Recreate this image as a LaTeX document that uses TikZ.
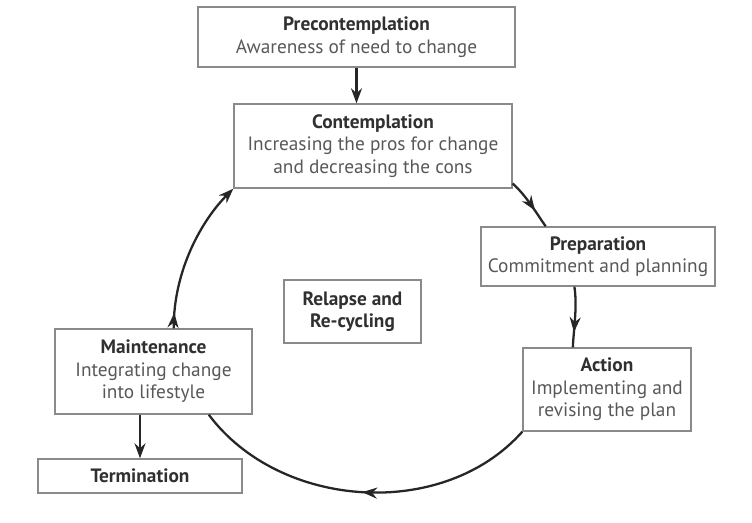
\documentclass[tikz,border=0pt]{standalone}
\usepackage{fontspec}
\setmainfont{PT Sans}
\usepackage{xcolor}
\usepackage{tikz}
\usetikzlibrary{arrows.meta,decorations.markings}

\definecolor{boxgray}{HTML}{8A8A8A}
\definecolor{txtgray}{HTML}{585858}
\definecolor{titlegray}{HTML}{303030}
\definecolor{arrgray}{HTML}{262626}
\newcommand{\stagetitle}[1]{{\bfseries\color{titlegray}#1}}

\begin{document}
\begin{tikzpicture}[x=0.02cm,y=-0.02cm,
  stagebox/.style={draw=boxgray,line width=0.8pt,align=center,text=txtgray,
    font=\fontsize{11}{12.8}\selectfont,inner sep=0pt},
  flow/.style={draw=arrgray,line width=1.3pt},
  tipat/.style={postaction={decorate},decoration={markings,
    mark=at position #1 with {\arrow{Stealth[length=3mm,width=2.2mm]}}}}]
\useasboundingbox (0,0) rectangle (752,522);

% stages
\node[stagebox,minimum width=6.34cm,minimum height=1.2cm] (pre) at (356.5,37)
  {\stagetitle{Precontemplation}\\Awareness of need to change};
\node[stagebox,minimum width=5.56cm,minimum height=1.68cm] (con) at (373,146)
  {\stagetitle{Contemplation}\\Increasing the pros for change\\and decreasing the cons};
\node[stagebox,minimum width=4.68cm,minimum height=1.18cm] (prep) at (598,256.5)
  {\stagetitle{Preparation}\\Commitment and planning};
\node[stagebox,minimum width=3.36cm,minimum height=1.66cm] (act) at (607,389.5)
  {\stagetitle{Action}\\Implementing and\\revising the plan};
\node[stagebox,minimum width=3.94cm,minimum height=1.7cm] (main) at (153.5,371.5)
  {\stagetitle{Maintenance}\\Integrating change\\into lifestyle};
\node[stagebox,minimum width=4.08cm,minimum height=0.68cm] (term) at (140,476)
  {\stagetitle{Termination}};
\node[stagebox,minimum width=2.74cm,minimum height=1.26cm] (rel) at (352.5,311.5)
  {\stagetitle{Relapse and}\\\stagetitle{Re-cycling}};

% cycle
\draw[flow,-{Stealth[length=3mm,width=2.2mm]}] (pre.south) -- (pre.south |- con.north);
\draw[flow,tipat=0.65] (con.-15) .. controls +(15,14) and +(-10,-14) .. (prep.150);
\draw[flow,tipat=0.75] (prep.232) .. controls +(3,20) and +(1,-20) .. (act.129);
\draw[flow,tipat=0.5] (act.south west) .. controls +(-79,89) and +(71,95) .. (main.-38);
\draw[flow,tipat=0.1,-{Stealth[length=3mm,width=2.2mm]}] (main.65) .. controls +(0,-60) and +(-30,30) .. (con.south west);
\draw[flow,-{Stealth[length=3mm,width=2.2mm]}] (term.north |- main.south) -- (term.north);
\end{tikzpicture}
\end{document}
